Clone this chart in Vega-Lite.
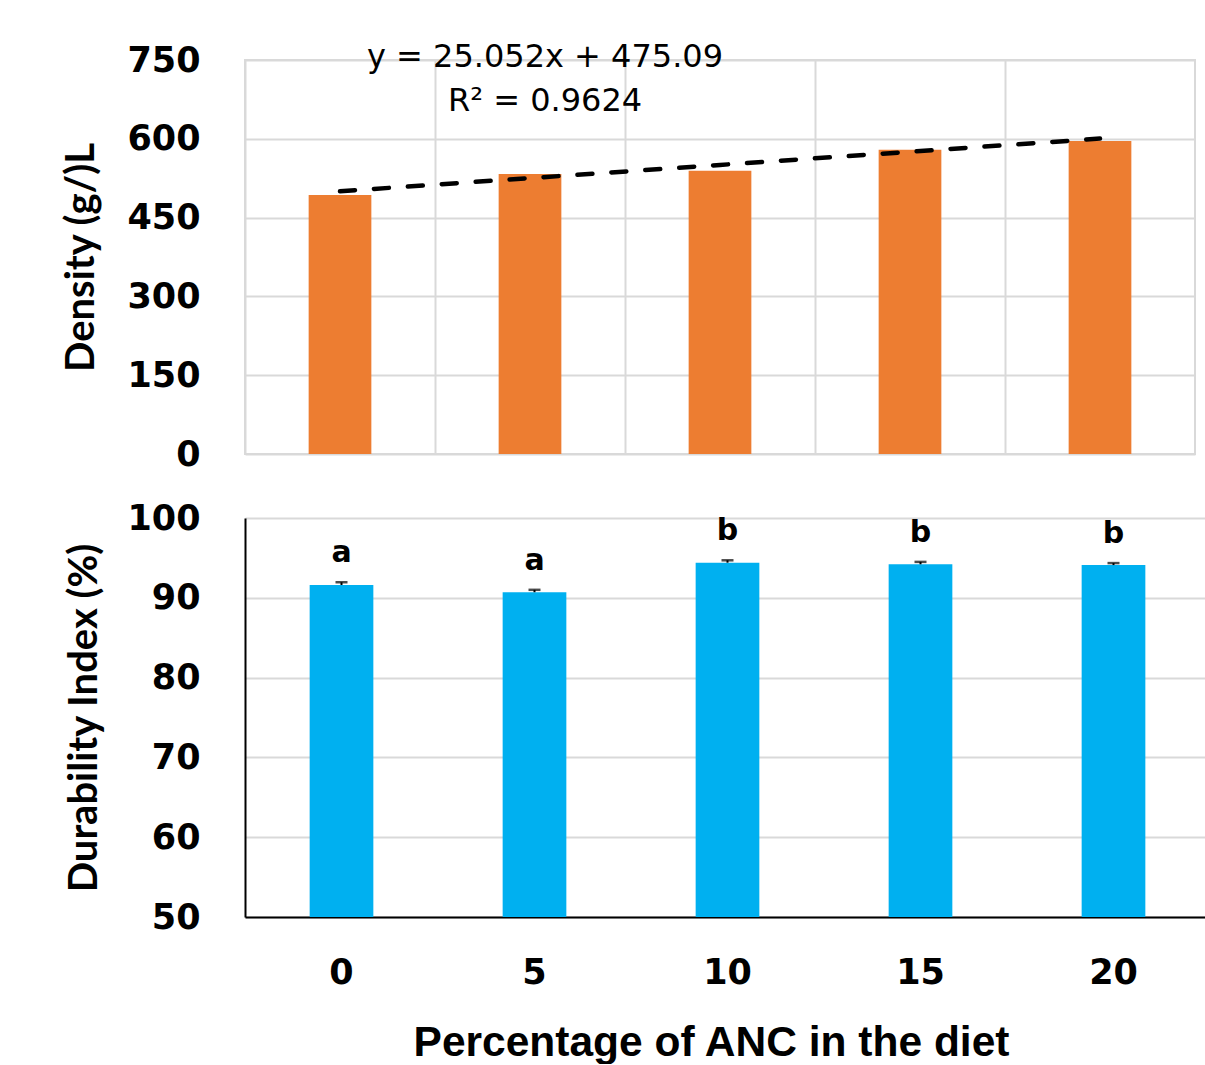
{
  "$schema": "https://vega.github.io/schema/vega-lite/v6.json",
  "background": "white",
  "padding": {"left": 60, "top": 39, "right": 0, "bottom": 0},
  "spacing": 28,
  "config": {
    "font": "DejaVu Sans",
    "axis": {
      "gridColor": "#d9d9d9",
      "gridWidth": 2,
      "labelFont": "DejaVu Sans",
      "labelFontWeight": "bold",
      "labelFontSize": 35,
      "labelColor": "black",
      "ticks": false,
      "titleColor": "black",
      "titleFontWeight": "bold"
    },
    "view": {"stroke": null}
  },
  "vconcat": [
    {
      "width": 950,
      "height": 394,
      "view": {"stroke": "#d9d9d9", "strokeWidth": 2},
      "data": {"values": [
        {"anc": "0", "density": 493, "trend": 500.14},
        {"anc": "5", "density": 533, "trend": 525.19},
        {"anc": "10", "density": 539, "trend": 550.25},
        {"anc": "15", "density": 579, "trend": 575.30},
        {"anc": "20", "density": 596, "trend": 600.35}
      ]},
      "encoding": {
        "x": {
          "field": "anc", "type": "ordinal", "sort": null,
          "scale": {"domain": ["0", "5", "10", "15", "20"], "paddingInner": 0, "paddingOuter": 0},
          "axis": {"labels": false, "domain": false, "grid": true, "bandPosition": 0, "title": null}
        }
      },
      "layer": [
        {
          "mark": {"type": "bar", "color": "#ED7D31", "width": {"band": 0.33}},
          "encoding": {
            "y": {
              "field": "density", "type": "quantitative",
              "scale": {"domain": [0, 750], "nice": false},
              "axis": {
                "values": [0, 150, 300, 450, 600, 750], "domain": false,
                "labelPadding": 45, "title": "Density (g/)L",
                "titleFont": "Lato", "titleFontSize": 40, "titlePadding": 25
              }
            }
          }
        },
        {
          "mark": {"type": "line", "color": "black", "strokeWidth": 4.5, "strokeDash": [15, 19], "strokeCap": "round"},
          "encoding": {"y": {"field": "trend", "type": "quantitative"}}
        },
        {
          "data": {"values": [
            {"anc": "5", "label": "y = 25.052x + 475.09", "yv": 756},
            {"anc": "5", "label": "R² = 0.9624", "yv": 672}
          ]},
          "mark": {"type": "text", "fontSize": 32, "dx": 15, "clip": false, "color": "black"},
          "encoding": {
            "text": {"field": "label"},
            "y": {"field": "yv", "type": "quantitative"}
          }
        }
      ]
    },
    {
      "width": 965,
      "height": 399,
      "data": {"values": [
        {"anc": "0", "di": 91.6, "hi": 91.95, "grp": "a"},
        {"anc": "5", "di": 90.7, "hi": 91.0, "grp": "a"},
        {"anc": "10", "di": 94.4, "hi": 94.7, "grp": "b"},
        {"anc": "15", "di": 94.2, "hi": 94.5, "grp": "b"},
        {"anc": "20", "di": 94.1, "hi": 94.35, "grp": "b"}
      ]},
      "encoding": {
        "x": {
          "field": "anc", "type": "ordinal", "sort": null,
          "scale": {"domain": ["0", "5", "10", "15", "20"], "paddingInner": 0, "paddingOuter": 0},
          "axis": {
            "labelAngle": 0, "domain": true, "domainColor": "black", "domainWidth": 2,
            "grid": false, "labelPadding": 38,
            "title": "Percentage of ANC in the diet",
            "titleFont": "Liberation Sans", "titleFontSize": 42.5, "titlePadding": 31,
            "titleX": 466
          }
        }
      },
      "layer": [
        {
          "mark": {"type": "bar", "color": "#00B0F0", "width": {"band": 0.33}, "clip": true},
          "encoding": {
            "y": {
              "field": "di", "type": "quantitative",
              "scale": {"domain": [50, 100], "zero": false, "nice": false},
              "axis": {
                "values": [50, 60, 70, 80, 90, 100],
                "domain": true, "domainColor": "black", "domainWidth": 2,
                "grid": true, "labelPadding": 45,
                "title": "Durability Index (%)",
                "titleFont": "Lato", "titleFontSize": 40, "titlePadding": 22
              }
            }
          }
        },
        {
          "mark": {"type": "rule", "color": "black", "strokeWidth": 2},
          "encoding": {
            "y": {"field": "di", "type": "quantitative"},
            "y2": {"field": "hi"}
          }
        },
        {
          "mark": {"type": "tick", "color": "black", "thickness": 2.5, "size": 12},
          "encoding": {"y": {"field": "hi", "type": "quantitative"}}
        },
        {
          "mark": {"type": "text", "fontSize": 30, "fontWeight": "bold", "baseline": "bottom", "dy": -14, "color": "black"},
          "encoding": {
            "y": {"field": "hi", "type": "quantitative"},
            "text": {"field": "grp"}
          }
        }
      ]
    }
  ]
}
